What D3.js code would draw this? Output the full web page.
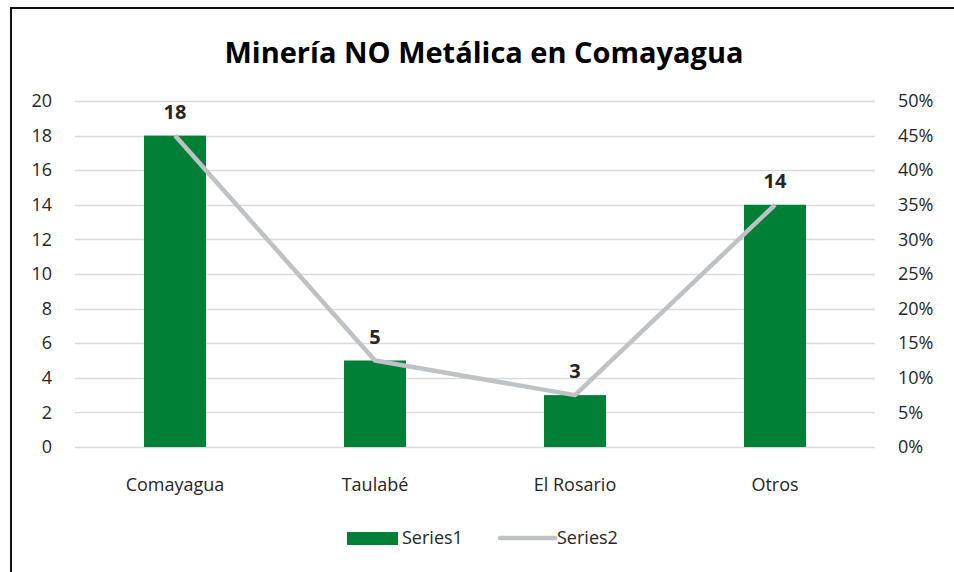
<!DOCTYPE html>
<html>
<head>
<meta charset="utf-8">
<script src="https://cdn.jsdelivr.net/npm/d3@7"></script>
<style>
	body { margin: 0; background: #fff; }
	text { font-family: "Open Sans", "Noto Sans", sans-serif; fill: #262626; }
</style>
</head>
<body>
<svg width="954" height="572"></svg>
<script>
var categories = ["Comayagua", "Taulabé", "El Rosario", "Otros"];
var series1 = [18, 5, 3, 14];
var series2 = [0.45, 0.125, 0.075, 0.35];
var leftTicks = [0, 2, 4, 6, 8, 10, 12, 14, 16, 18, 20];
var rightTicks = [0, 0.05, 0.1, 0.15, 0.2, 0.25, 0.3, 0.35, 0.4, 0.45, 0.5];

var svg = d3.select("svg");
var margin = { top: 101, right: 79, bottom: 125, left: 75 },
	width = +svg.attr("width") - margin.left - margin.right,
	height = +svg.attr("height") - margin.top - margin.bottom;

// frame (only top and left edges show)
svg.append("path")
	.attr("d", "M11,572V8H954")
	.attr("fill", "none")
	.attr("stroke", "#111")
	.attr("stroke-width", 2);

svg.append("text")
	.attr("x", 484)
	.attr("y", 63)
	.attr("text-anchor", "middle")
	.style("font-size", "29px")
	.style("font-weight", "bold")
	.style("fill", "#000")
	.text("Minería NO Metálica en Comayagua");

var g = svg.append("g").attr("transform", "translate(" + margin.left + "," + margin.top + ")");

var xScale = d3.scaleBand()
	.domain(categories)
	.range([0, width])
	.paddingInner(0.69)
	.paddingOuter(0.345);

var yScale = d3.scaleLinear().domain([0, 20]).range([height, 0]);
var y2Scale = d3.scaleLinear().domain([0, 0.5]).range([height, 0]);

// gridlines
g.selectAll(".grid")
	.data(leftTicks)
	.enter().append("line")
	.attr("x1", 0)
	.attr("x2", width)
	.attr("y1", function(d) { return Math.round(yScale(d)) + 0.5; })
	.attr("y2", function(d) { return Math.round(yScale(d)) + 0.5; })
	.attr("stroke", "#d9d9d9")
	.attr("stroke-width", 1.3);

var yAxis = g.append("g")
	.call(d3.axisLeft(yScale).tickValues(leftTicks).tickSize(0).tickPadding(23));
yAxis.select(".domain").remove();
yAxis.selectAll("text").style("font-size", "18px").attr("fill", "#404040");

var y2Axis = g.append("g")
	.attr("transform", "translate(" + width + ",0)")
	.call(d3.axisRight(y2Scale).tickValues(rightTicks).tickSize(0).tickPadding(23).tickFormat(d3.format(".0%")));
y2Axis.select(".domain").remove();
y2Axis.selectAll("text").style("font-size", "18px").attr("fill", "#404040");

var xAxis = g.append("g")
	.attr("transform", "translate(0," + height + ")")
	.call(d3.axisBottom(xScale).tickSize(0).tickPadding(31));
xAxis.select(".domain").remove();
xAxis.selectAll("text").style("font-size", "18px").attr("fill", "#404040");

var data = categories.map(function(c, i) { return { cat: c, v: series1[i], p: series2[i] }; });

g.selectAll(".bar")
	.data(data)
	.enter().append("rect")
	.attr("class", "bar")
	.attr("x", function(d) { return xScale(d.cat); })
	.attr("width", xScale.bandwidth())
	.attr("y", function(d) { return yScale(d.v); })
	.attr("height", function(d) { return height - yScale(d.v); })
	.attr("fill", "#007f37");

var line = d3.line()
	.x(function(d) { return xScale(d.cat) + xScale.bandwidth() / 2; })
	.y(function(d) { return y2Scale(d.p); });

g.append("path")
	.datum(data)
	.attr("fill", "none")
	.attr("stroke", "#bfc2c4")
	.attr("stroke-width", 4.5)
	.attr("stroke-linejoin", "round")
	.attr("d", line);

g.selectAll(".lbl")
	.data(data)
	.enter().append("text")
	.attr("x", function(d) { return xScale(d.cat) + xScale.bandwidth() / 2; })
	.attr("y", function(d) { return yScale(d.v) - 17; })
	.attr("text-anchor", "middle")
	.style("font-size", "20px")
	.style("font-weight", "bold")
	.text(function(d) { return d.v; });

// legend
var legend = svg.append("g").attr("transform", "translate(0,538)");
legend.append("rect")
	.attr("x", 347).attr("y", -6).attr("width", 51).attr("height", 13)
	.attr("fill", "#007f37");
legend.append("text")
	.attr("x", 402).attr("y", 0).attr("dy", "0.35em")
	.style("font-size", "18px").attr("fill", "#404040")
	.text("Series1");
legend.append("line")
	.attr("x1", 500).attr("x2", 555).attr("y1", 0).attr("y2", 0)
	.attr("stroke", "#bfc2c4").attr("stroke-width", 4.5).attr("stroke-linecap", "round");
legend.append("text")
	.attr("x", 557).attr("y", 0).attr("dy", "0.35em")
	.style("font-size", "18px").attr("fill", "#404040")
	.text("Series2");
</script>
</body>
</html>
